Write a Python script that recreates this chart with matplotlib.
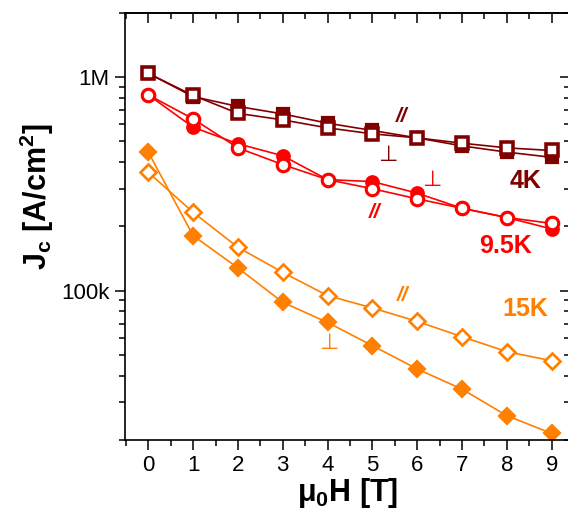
import numpy as np
import matplotlib
matplotlib.use("Agg")
import matplotlib.pyplot as plt
from matplotlib.ticker import FixedLocator, FixedFormatter, LogLocator, NullFormatter, MultipleLocator

plt.rcParams['font.family'] = ['Liberation Sans', 'DejaVu Sans']
plt.rcParams['mathtext.fontset'] = 'custom'
plt.rcParams['mathtext.rm'] = 'Liberation Sans'
plt.rcParams['mathtext.bf'] = 'Liberation Sans:bold'

# field in tesla
field = [0, 1, 2, 3, 4, 5, 6, 7, 8, 9]

# Jc in A/cm^2
jc_4k_par = [1.04e6, 0.82e6, 0.676e6, 0.630e6, 0.578e6, 0.542e6, 0.519e6, 0.490e6, 0.466e6, 0.453e6]
jc_4k_perp = [1.04e6, 0.81e6, 0.728e6, 0.672e6, 0.608e6, 0.562e6, 0.519e6, 0.476e6, 0.445e6, 0.421e6]
jc_95k_par = [0.825e6, 0.637e6, 0.466e6, 0.389e6, 0.331e6, 0.300e6, 0.269e6, 0.243e6, 0.220e6, 0.2065e6]
jc_95k_perp = [0.825e6, 0.582e6, 0.487e6, 0.428e6, 0.331e6, 0.324e6, 0.286e6, 0.243e6, 0.220e6, 0.1945e6]
jc_15k_par = [0.358e6, 0.2326e6, 0.1595e6, 0.1218e6, 0.0948e6, 0.0830e6, 0.0718e6, 0.0609e6, 0.0518e6, 0.047e6]
jc_15k_perp = [0.445e6, 0.181e6, 0.1278e6, 0.0882e6, 0.0710e6, 0.0553e6, 0.0430e6, 0.0346e6, 0.026e6, 0.02146e6]

c4 = '#800000'
c95 = '#ff0000'
c15 = '#ff8000'

fig = plt.figure(figsize=(5.68, 5.27), dpi=100)
ax = fig.add_axes([125/568, 87/527, 445/568, 427.3/527])

lw = 1.2
mew = 1.6
# filled (perpendicular) first, open (parallel) on top
ax.plot(field, jc_4k_perp, color=c4, lw=lw, marker='s', ms=8.5, mfc=c4, mec=c4, mew=mew)
ax.plot(field, jc_4k_par, color=c4, lw=lw, marker='s', ms=8.5, mfc='white', mec=c4, mew=mew*1.6)
ax.plot(field, jc_95k_perp, color=c95, lw=lw, marker='o', ms=9, mfc=c95, mec=c95, mew=mew)
ax.plot(field, jc_95k_par, color=c95, lw=lw, marker='o', ms=9, mfc='white', mec=c95, mew=mew*1.4)
ax.plot(field, jc_15k_perp, color=c15, lw=lw, marker='D', ms=8.5, mfc=c15, mec=c15, mew=mew)
ax.plot(field, jc_15k_par, color=c15, lw=lw, marker='D', ms=8.5, mfc='white', mec=c15, mew=mew*1.2)

ax.set_yscale('log')
ax.set_xlim(-0.52, 9.41)
ax.set_ylim(2e4, 2e6)

ax.xaxis.set_major_locator(MultipleLocator(1))
ax.xaxis.set_minor_locator(MultipleLocator(0.5))
ax.yaxis.set_major_locator(FixedLocator([1e5, 1e6]))
ax.yaxis.set_major_formatter(FixedFormatter(['100k', '1M']))
ax.yaxis.set_minor_locator(LogLocator(base=10, subs=np.arange(2, 10)))
ax.yaxis.set_minor_formatter(NullFormatter())

ax.tick_params(which='major', direction='out', length=7, width=1.1, labelsize=16, pad=4)
ax.tick_params(which='minor', direction='out', length=4, width=1.1)
for s in ax.spines.values():
    s.set_linewidth(1.2)

# mirrored inward ticks on top and right
top = ax.secondary_xaxis('top')
top.xaxis.set_major_locator(MultipleLocator(1))
top.xaxis.set_minor_locator(MultipleLocator(0.5))
top.tick_params(which='major', direction='in', length=7, width=1.1, labeltop=False)
top.tick_params(which='minor', direction='in', length=4, width=1.1)
top.spines['top'].set_linewidth(1.2)
right = ax.secondary_yaxis('right')
right.yaxis.set_major_locator(FixedLocator([1e5, 1e6]))
right.yaxis.set_minor_locator(LogLocator(base=10, subs=np.arange(2, 10)))
right.yaxis.set_minor_formatter(NullFormatter())
right.tick_params(which='major', direction='in', length=7, width=1.1, labelright=False)
right.tick_params(which='minor', direction='in', length=4, width=1.1)

ax.set_xlabel(r'μ$_\mathbf{0}$H [T]', fontsize=22, fontweight='bold', labelpad=0)
ax.set_ylabel(r'J$_\mathbf{c}$ [A/cm$^\mathbf{2}$]', fontsize=22, fontweight='bold')
ax.yaxis.set_label_coords(-0.154, 0.57)

# annotations
tk = dict(ha='center', va='center')
ax.text(5.66, 0.653e6, '//', color=c4, fontsize=15, style='italic', fontweight='bold', **tk)
ax.text(5.35, 0.428e6, '⊥', color=c4, fontsize=16, **tk)
ax.text(8.41, 0.327e6, '4K', color=c4, fontsize=18, fontweight='bold', **tk)
ax.text(6.33, 0.327e6, '⊥', color=c95, fontsize=16, **tk)
ax.text(5.04, 0.233e6, '//', color=c95, fontsize=15, style='italic', fontweight='bold', **tk)
ax.text(7.96, 0.1626e6, '9.5K', color=c95, fontsize=18, fontweight='bold', **tk)
ax.text(5.68, 0.0948e6, '//', color=c15, fontsize=15, style='italic', fontweight='bold', **tk)
ax.text(4.03, 0.0565e6, '⊥', color=c15, fontsize=16, **tk)
ax.text(8.41, 0.0819e6, '15K', color=c15, fontsize=18, fontweight='bold', **tk)

fig.savefig('out.png', dpi=100)
